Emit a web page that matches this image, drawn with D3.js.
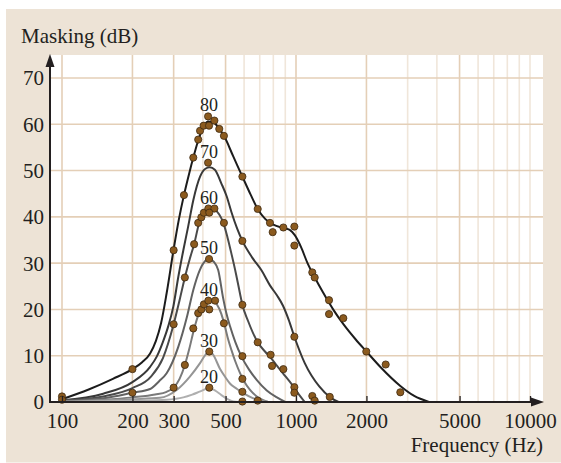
<!DOCTYPE html>
<html>
<head>
<meta charset="utf-8">
<script src="https://cdn.jsdelivr.net/npm/d3@7"></script>
<style>
  body { margin: 0; background: #fff; }
  svg text { font-family: 'Liberation Serif', 'Times New Roman', serif; fill: #231f20; }
</style>
</head>
<body>
<svg id="chart" width="561" height="463"></svg>
<script>
// masking curves, one per masker level: [frequency Hz, masking dB]
var curve80 = [[100,0.6],[130,2.7],[165,5.0],[200,7.1],[220,8.6],[238,10.5],[252,13.2],[265,17],[280,23.5],[300,33],[316,39.5],[332,44.7],[350,49.5],[364,52.8],[382,56.5],[400,59.2],[420,60.6],[445,60.4],[470,59.0],[492,57.5],[540,53],[590,48.7],[640,44.8],[686,41.7],[740,39.5],[800,38.3],[880,37.6],[940,37.2],[990,36],[1050,33.5],[1120,30],[1200,27],[1300,23.8],[1450,19.8],[1600,16.7],[1800,13.5],[2000,10.9],[2300,7.5],[2800,3.4],[3200,1.3],[3700,0]];
var curve70 = [[100,0.4],[150,1.8],[200,4.3],[238,7.6],[254,9.8],[270,13],[285,16.5],[299,20.6],[314,27],[330,32.8],[346,37.9],[364,43.6],[389,48.7],[410,50.4],[428,50.7],[450,50.2],[480,47.2],[505,44.5],[530,41],[560,37.5],[590,34.8],[650,31.2],[713,28.4],[774,25.2],[830,23],[880,20.8],[930,17.8],[984,14.1],[1090,8.4],[1260,3.3],[1400,1.0],[1520,0]];
var curve60 = [[100,0.3],[150,1.2],[200,3.0],[240,5.5],[270,9.5],[300,16.8],[318,22],[335,26.9],[352,31],[367,34.1],[385,38.5],[405,40.8],[430,41.7],[450,41.5],[470,40.5],[490,38.6],[510,35.5],[530,32],[555,27.5],[576,23.5],[590,21],[624,17.5],[686,12.9],[740,10.8],[779,9.6],[830,7.8],[880,6.2],[960,3.8],[1030,1.6],[1090,0]];
var curve50 = [[100,0.2],[150,0.8],[200,2.0],[238,2.8],[260,4.5],[280,6.2],[314,11.9],[342,18.4],[364,24.2],[388,28.5],[410,30.5],[425,30.9],[445,30.3],[465,28.5],[488,22.5],[505,19],[523,16.3],[550,13],[585,9.8],[630,7],[679,4.8],[750,2.5],[829,1.0],[900,0]];
var curve40 = [[100,0.1],[150,0.5],[200,1.0],[250,1.6],[280,2.2],[300,3.1],[318,5],[335,8],[350,11.5],[367,15.8],[385,19.2],[400,20.9],[420,21.8],[440,21.9],[460,21],[480,19],[493,17],[510,14],[530,11.2],[550,8.8],[576,6.3],[600,4.5],[636,2.6],[680,1.2],[724,0.4],[760,0]];
var curve30 = [[100,0.05],[200,0.6],[262,0.9],[309,2.6],[352,5.5],[389,8.4],[410,10.2],[425,10.9],[440,10.4],[473,7.2],[500,5.3],[522,4.0],[560,2.8],[595,1.9],[650,0.9],[700,0.4],[760,0]];
var curve20 = [[100,0],[200,0.25],[280,0.5],[330,1.0],[360,1.6],[390,2.3],[425,3.0],[450,2.5],[480,1.5],[510,0.6],[540,0.1],[570,0]];

var levels = [80, 70, 60, 50, 40, 30, 20];
var curves = [curve80, curve70, curve60, curve50, curve40, curve30, curve20];
var curveColors = ['#1c1c1c', '#383838', '#4a4a4a', '#626262', '#7a7a7a', '#959595', '#afafaf'];
// where each level number sits (over the peak)
var labelFreq = 425;
var labelDb = [61.7, 51.7, 41.8, 30.9, 21.9, 10.9, 3.1];

// measured points
var points = [[100,1.2],[100,0.5],[200,7.1],[200,2.0],[300,32.8],[300,16.8],[300,3.1],
  [332,44.7],[364,52.8],[382,56.7],[389,58.6],[403,59.7],[425,59.7],[421,61.7],[448,60.8],[470,59.0],[492,57.5],
  [590,48.7],[686,41.7],[774,38.7],[795,36.7],[883,37.7],[984,37.9],[984,33.8],[1174,28.0],[1202,26.9],
  [1384,22.0],[1384,19.0],[1593,18.1],[1997,10.9],[2417,8.1],[2791,2.1],
  [421,51.7],
  [382,38.7],[394,39.9],[404,40.9],[422,41.8],[448,41.8],[426,40.9],[492,38.7],[367,34.1],[335,26.9],[590,34.8],
  [425,30.9],
  [382,19.2],[394,20.0],[404,21.1],[422,21.9],[451,21.9],[426,20.0],[492,17.0],[364,15.9],[335,8.0],
  [426,10.9],[426,3.1],
  [590,21.0],[590,9.9],[590,5.0],[590,2.2],[590,0.1],
  [686,12.9],[686,0.3],[779,10.2],[790,7.8],[883,7.1],
  [984,14.1],[984,3.2],[984,2.0],[1174,1.3],[1202,0.3],[1394,1.1]];

var xTicks = [100, 200, 300, 500, 1000, 2000, 5000, 10000];
var xMajorGrid = [100, 200, 300, 500, 1000, 2000, 5000];
var xMinorGrid = [400, 600, 700, 800, 900, 3000, 4000, 6000, 7000, 8000, 9000, 10000];
var yTicks = [0, 10, 20, 30, 40, 50, 60, 70];

var svg = d3.select('#chart');

var x = d3.scaleLog().domain([100, 10000]).range([62, 530]);
var y = d3.scaleLinear().domain([0, 70]).range([402, 78]);

var plotL = 50, plotR = 543, plotT = 55, plotB = 402;

//Background frame and plot area
svg.append('rect')
	.attr('x', 6).attr('y', 9)
	.attr('width', 555).attr('height', 453.5)
	.attr('fill', '#ede3d6');

svg.append('rect')
	.attr('x', plotL).attr('y', plotT)
	.attr('width', plotR - plotL).attr('height', plotB - plotT)
	.attr('fill', '#fff');

//Grid
var grid = svg.append('g').classed('grid', true);
grid.selectAll('.vminor')
	.data(xMinorGrid)
  .enter().append('line')
	.attr('x1', d => x(d)).attr('x2', d => x(d))
	.attr('y1', plotT).attr('y2', plotB)
	.attr('stroke', '#f0e6da')
	.attr('stroke-width', 1.6);

grid.selectAll('.vmajor')
	.data(xMajorGrid)
  .enter().append('line')
	.attr('x1', d => x(d)).attr('x2', d => x(d))
	.attr('y1', plotT).attr('y2', plotB)
	.attr('stroke', '#e4cfb7')
	.attr('stroke-width', 1.6);

grid.selectAll('.hgrid')
	.data(yTicks)
  .enter().append('line')
	.attr('x1', plotL).attr('x2', plotR)
	.attr('y1', d => y(d)).attr('y2', d => y(d))
	.attr('stroke', '#e4cfb7')
	.attr('stroke-width', 1.6);

//Curves
var line = d3.line()
	.x(d => x(d[0]))
	.y(d => y(d[1]))
	.curve(d3.curveMonotoneX);

svg.append('g').selectAll('path')
	.data(curves)
  .enter().append('path')
	.attr('d', line)
	.attr('fill', 'none')
	.attr('stroke', (d, i) => curveColors[i])
	.attr('stroke-width', 2);

//Level labels
svg.append('g').selectAll('text')
	.data(levels)
  .enter().append('text')
	.attr('x', x(labelFreq))
	.attr('y', (d, i) => y(labelDb[i]) - 5)
	.attr('text-anchor', 'middle')
	.style('font-size', '18px')
	.text(d => d);

//Measured points
svg.append('g').selectAll('circle')
	.data(points)
  .enter().append('circle')
	.attr('cx', d => x(d[0]))
	.attr('cy', d => y(d[1]))
	.attr('r', 3.6)
	.attr('fill', '#8b5a1e')
	.attr('stroke', '#3d2a12')
	.attr('stroke-width', 0.8);

//Axes
var xAxis = d3.axisBottom(x)
	.tickValues(xTicks)
	.tickFormat(d3.format('d'))
	.tickSize(-6)
	.tickPadding(11);

var gx = svg.append('g')
	.attr('transform', 'translate(0,' + plotB + ')')
	.call(xAxis);
gx.select('.domain').remove();
gx.selectAll('line').attr('stroke', '#231f20').attr('stroke-width', 1.3);
gx.selectAll('text').style('font-size', '21px');

var yAxis = d3.axisLeft(y)
	.tickValues(yTicks)
	.tickSize(0)
	.tickPadding(6);

var gy = svg.append('g')
	.attr('transform', 'translate(' + plotL + ',0)')
	.call(yAxis);
gy.select('.domain').remove();
gy.selectAll('text').style('font-size', '21px').attr('dy', '0.33em');

svg.append('line')
	.attr('x1', plotL).attr('x2', 533)
	.attr('y1', plotB).attr('y2', plotB)
	.attr('stroke', '#231f20').attr('stroke-width', 2);
svg.append('line')
	.attr('x1', plotL).attr('x2', plotL)
	.attr('y1', plotB + 1).attr('y2', 64)
	.attr('stroke', '#231f20').attr('stroke-width', 2);

svg.append('path')
	.attr('d', 'M' + (plotR + 1) + ',' + plotB + 'L' + (plotR - 12) + ',' + (plotB - 4.5) + 'L' + (plotR - 12) + ',' + (plotB + 4.5) + 'Z')
	.attr('fill', '#231f20');
svg.append('path')
	.attr('d', 'M' + plotL + ',' + (plotT - 1) + 'L' + (plotL - 4.5) + ',' + (plotT + 12) + 'L' + (plotL + 4.5) + ',' + (plotT + 12) + 'Z')
	.attr('fill', '#231f20');

//Axis titles
svg.append('text')
	.attr('x', 21).attr('y', 43)
	.style('font-size', '21px')
	.text('Masking (dB)');

svg.append('text')
	.attr('x', plotR).attr('y', 452)
	.attr('text-anchor', 'end')
	.style('font-size', '21px')
	.text('Frequency (Hz)');
</script>
</body>
</html>
